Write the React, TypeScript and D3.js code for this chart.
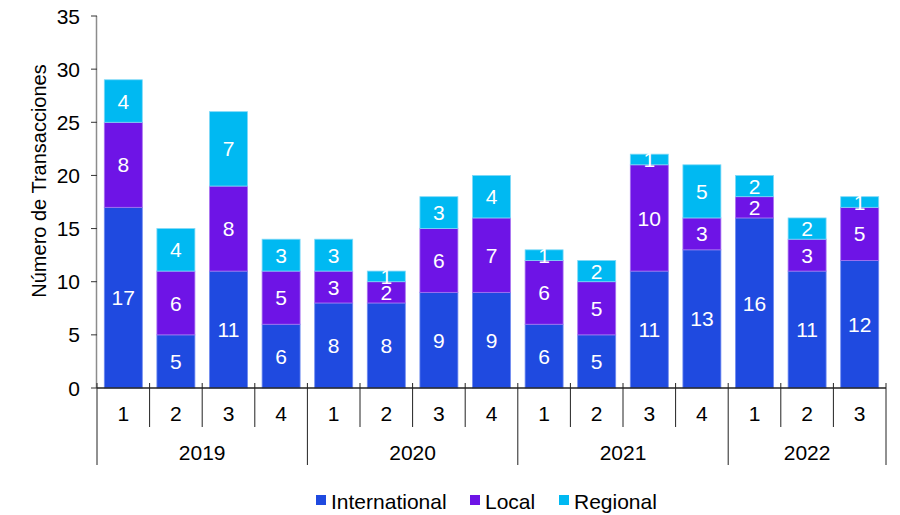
import React from "react";
import * as d3 from "d3";

const years = ["2019", "2020", "2021", "2022"];
const quarters = [
  ["1", "2", "3", "4"],
  ["1", "2", "3", "4"],
  ["1", "2", "3", "4"],
  ["1", "2", "3"],
];
const international = [17, 5, 11, 6, 8, 8, 9, 9, 6, 5, 11, 13, 16, 11, 12];
const local = [8, 6, 8, 5, 3, 2, 6, 7, 6, 5, 10, 3, 2, 3, 5];
const regional = [4, 4, 7, 3, 3, 1, 3, 4, 1, 2, 1, 5, 2, 2, 1];
const seriesNames = ["International", "Local", "Regional"];
const seriesColors = ["#1F4AE0", "#6E14E6", "#00B9F2"];
const strokeColors = ["#6F8BF0", "#A873F0", "#7FD9F7"];
const yTicks = [0, 5, 10, 15, 20, 25, 30, 35];

const W = 900;
const H = 515;
const FONT = "'Liberation Sans', Arial, sans-serif";
const FS = 21;

export default function App() {
  const cats: { key: string; label: string; year: number }[] = [];
  quarters.forEach((qs, yi) =>
    qs.forEach((q) => cats.push({ key: `${years[yi]}-${q}`, label: q, year: yi }))
  );
  const rows = cats.map((c, i) => ({
    key: c.key,
    International: international[i],
    Local: local[i],
    Regional: regional[i],
  }));
  const stack = d3.stack<any>().keys(seriesNames)(rows);

  const x0 = 97;
  const x1 = 886;
  const y0 = 388;
  const yTop = 16;
  const y = d3.scaleLinear().domain([0, 35]).range([y0, yTop]);
  const bw = (x1 - x0) / cats.length;
  const bandStart = (i: number) => x0 + i * bw;
  const barW = 38;

  const yearStarts: number[] = [];
  let idx = 0;
  quarters.forEach((qs) => {
    yearStarts.push(idx);
    idx += qs.length;
  });

  return (
    <svg width={W} height={H} style={{ position: "absolute", left: 0, top: 0, background: "#fff" }} fontFamily={FONT}>
      {stack.map((s, si) => (
        <g key={seriesNames[si]}>
          {s.map((d, i) => (
            <rect
              key={i}
              x={bandStart(i) + (bw - barW) / 2}
              y={y(d[1])}
              width={barW}
              height={y(d[0]) - y(d[1])}
              fill={seriesColors[si]}
              stroke={strokeColors[si]}
              strokeWidth={0.8}
            />
          ))}
        </g>
      ))}
      {stack.map((s, si) => (
        <g key={"l" + seriesNames[si]}>
          {s.map((d, i) => (
            <text
              key={i}
              x={bandStart(i) + bw / 2}
              y={(y(d[0]) + y(d[1])) / 2}
              dy="0.36em"
              textAnchor="middle"
              fill="#fff"
              fontSize={FS}
            >
              {d[1] - d[0]}
            </text>
          ))}
        </g>
      ))}
      <line x1={x0 - 0.5} x2={x0 - 0.5} y1={yTop} y2={y0} stroke="#8c8c8c" strokeWidth={1.5} />
      {yTicks.map((t) => (
        <g key={t}>
          <line x1={x0 - 6} x2={x0} y1={y(t)} y2={y(t)} stroke="#333" strokeWidth={1} />
          <text x={x0 - 17} y={y(t)} dy="0.36em" textAnchor="end" fontSize={FS} fill="#000">
            {t}
          </text>
        </g>
      ))}
      <text transform={`translate(46,181) rotate(-90)`} textAnchor="middle" fontSize={20} fill="#000">
        Número de Transacciones
      </text>
      <line x1={x0} x2={x1} y1={y0} y2={y0} stroke="#222" strokeWidth={1.5} />
      {cats.map((c, i) => (
        <text key={c.key} x={bandStart(i) + bw / 2} y={413} dy="0.36em" textAnchor="middle" fontSize={FS} fill="#000">
          {c.label}
        </text>
      ))}
      {cats.map((c, i) =>
        yearStarts.includes(i) ? null : (
          <line key={"t" + i} x1={bandStart(i)} x2={bandStart(i)} y1={y0 - 5} y2={427} stroke="#222" strokeWidth={1} />
        )
      )}
      {[...yearStarts, cats.length].map((s, k) => (
        <line key={"y" + k} x1={bandStart(s)} x2={bandStart(s)} y1={y0 - 5} y2={465} stroke="#222" strokeWidth={1} />
      ))}
      {years.map((yr, k) => {
        const s = yearStarts[k];
        const e = s + quarters[k].length;
        return (
          <text key={yr} x={(bandStart(s) + bandStart(e)) / 2} y={452} dy="0.36em" textAnchor="middle" fontSize={FS} fill="#000">
            {yr}
          </text>
        );
      })}
      {seriesNames.map((n, i) => {
        const lx = [316, 470, 559][i];
        return (
          <g key={n}>
            <rect x={lx} y={495} width={10} height={10} fill={seriesColors[i]} />
            <text x={lx + 15} y={501} dy="0.36em" fontSize={FS} fill="#000">
              {n}
            </text>
          </g>
        );
      })}
    </svg>
  );
}
